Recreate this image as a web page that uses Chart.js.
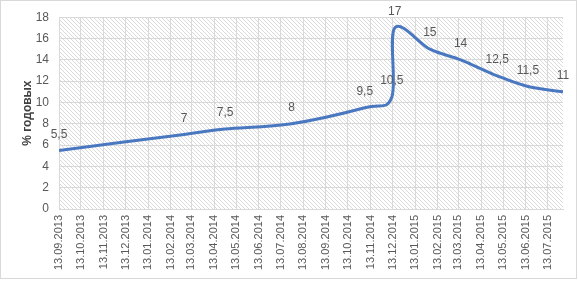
<!DOCTYPE html>
<html>
<head>
<meta charset="utf-8">
<script src="https://cdn.jsdelivr.net/npm/chart.js@4"></script>
<style>
  body { margin: 0; background: #fff; }
  #wrap { width: 578px; height: 281px; }
</style>
</head>
<body>
<div id="wrap"><canvas id="rateChart" width="578" height="281"></canvas></div>
<script>
// key rate changes (date, % per year)
const rateDates = ['13.09.2013', '03.03.2014', '28.04.2014', '28.07.2014', '05.11.2014', '12.12.2014',
	'16.12.2014', '02.02.2015', '16.03.2015', '05.05.2015', '16.06.2015', '03.08.2015'];
const rateValues = [5.5, 7, 7.5, 8, 9.5, 10.5, 17, 15, 14, 12.5, 11.5, 11];

// month ticks on the date axis
const tickDates = ['13.09.2013', '13.10.2013', '13.11.2013', '13.12.2013', '13.01.2014', '13.02.2014',
	'13.03.2014', '13.04.2014', '13.05.2014', '13.06.2014', '13.07.2014', '13.08.2014', '13.09.2014',
	'13.10.2014', '13.11.2014', '13.12.2014', '13.01.2015', '13.02.2015', '13.03.2015', '13.04.2015',
	'13.05.2015', '13.06.2015', '13.07.2015'];

const yTicks = [0, 2, 4, 6, 8, 10, 12, 14, 16, 18];

function toDay(str) {
	const [d, m, y] = str.split('.').map(Number);
	return Date.UTC(y, m - 1, d) / 86400000;
}

const dayToLabel = {};
tickDates.forEach(s => { dayToLabel[toDay(s)] = s; });

const points = rateDates.map((d, i) => ({ x: toDay(d), y: rateValues[i] }));

// hatched plot area like the excel fill
function hatchPattern(ctx) {
	const tile = document.createElement('canvas');
	tile.width = 4;
	tile.height = 4;
	const t = tile.getContext('2d');
	t.fillStyle = '#ffffff';
	t.fillRect(0, 0, 4, 4);
	t.fillStyle = '#dadada';
	for (let i = 0; i < 4; i++) t.fillRect(i, i, 1, 1);
	return ctx.createPattern(tile, 'repeat');
}

const backdrop = {
	id: 'backdrop',
	beforeDraw(chart) {
		const { ctx, chartArea: a } = chart;
		ctx.save();
		ctx.fillStyle = '#ffffff';
		ctx.fillRect(0, 0, chart.width, chart.height);
		ctx.strokeStyle = '#d9d9d9';
		ctx.lineWidth = 1;
		ctx.strokeRect(0.5, 0.5, chart.width - 2, chart.height - 3);
		ctx.fillStyle = hatchPattern(ctx);
		ctx.fillRect(a.left, a.top, a.right - a.left, a.bottom - a.top);
		ctx.restore();
	}
};

// excel style smoothing: control points at +-(next - prev) / 6
const excelSmooth = {
	id: 'excelSmooth',
	beforeDatasetsDraw(chart) {
		const meta = chart.getDatasetMeta(0);
		const pts = meta.data;
		pts.forEach((p, i) => {
			const prev = pts[i - 1] || p;
			const next = pts[i + 1] || p;
			const dx = (next.x - prev.x) / 6;
			const dy = (next.y - prev.y) / 6;
			p.cp1x = p.x - dx;
			p.cp1y = p.y - dy;
			p.cp2x = p.x + dx;
			p.cp2y = p.y + dy;
		});
		meta.dataset._pointsUpdated = true;
		meta.dataset._path = undefined;
	}
};

const valueLabels = {
	id: 'valueLabels',
	afterDatasetsDraw(chart) {
		const { ctx } = chart;
		const meta = chart.getDatasetMeta(0);
		ctx.save();
		ctx.font = '12px "Liberation Sans", Arial, sans-serif';
		ctx.fillStyle = '#595959';
		ctx.textAlign = 'center';
		ctx.textBaseline = 'middle';
		meta.data.forEach((pt, i) => {
			ctx.fillText(String(rateValues[i]).replace('.', ','), pt.x, pt.y - 16);
		});
		ctx.restore();
	}
};

new Chart(document.getElementById('rateChart'), {
	type: 'line',
	data: {
		datasets: [{
			data: points,
			borderColor: '#4a78c0',
			borderWidth: 3,
			tension: 0.4,
			pointRadius: 0,
			fill: false
		}]
	},
	options: {
		responsive: false,
		animation: false,
		layout: { padding: { top: 15, right: 15, bottom: 0, left: 0 } },
		plugins: { legend: { display: false }, tooltip: { enabled: false } },
		scales: {
			x: {
				type: 'linear',
				min: toDay(rateDates[0]),
				max: toDay(rateDates[rateDates.length - 1]),
				afterBuildTicks: axis => { axis.ticks = tickDates.map(s => ({ value: toDay(s) })); },
				afterFit: axis => { axis.height = 72; },
				grid: { color: '#d9d9d9', drawTicks: false },
				border: { color: '#d9d9d9' },
				ticks: {
					autoSkip: false,
					minRotation: 90,
					maxRotation: 90,
					padding: 6,
					color: '#595959',
					font: { size: 11, family: '"Liberation Sans", Arial, sans-serif' },
					callback: v => dayToLabel[v] || ''
				}
			},
			y: {
				min: 0,
				max: 18,
				afterBuildTicks: axis => { axis.ticks = yTicks.map(v => ({ value: v })); },
				afterFit: axis => { axis.width = 59; },
				grid: { color: '#d9d9d9', drawTicks: false },
				border: { display: false },
				ticks: {
					padding: 10,
					color: '#595959',
					font: { size: 12, family: '"Liberation Sans", Arial, sans-serif' }
				},
				title: {
					display: true,
					text: '% годовых',
					color: '#404040',
					font: { size: 12, weight: 'bold', family: '"Liberation Sans", Arial, sans-serif' },
					padding: { top: 20, bottom: 0 }
				}
			}
		}
	},
	plugins: [backdrop, excelSmooth, valueLabels]
});
</script>
</body>
</html>
